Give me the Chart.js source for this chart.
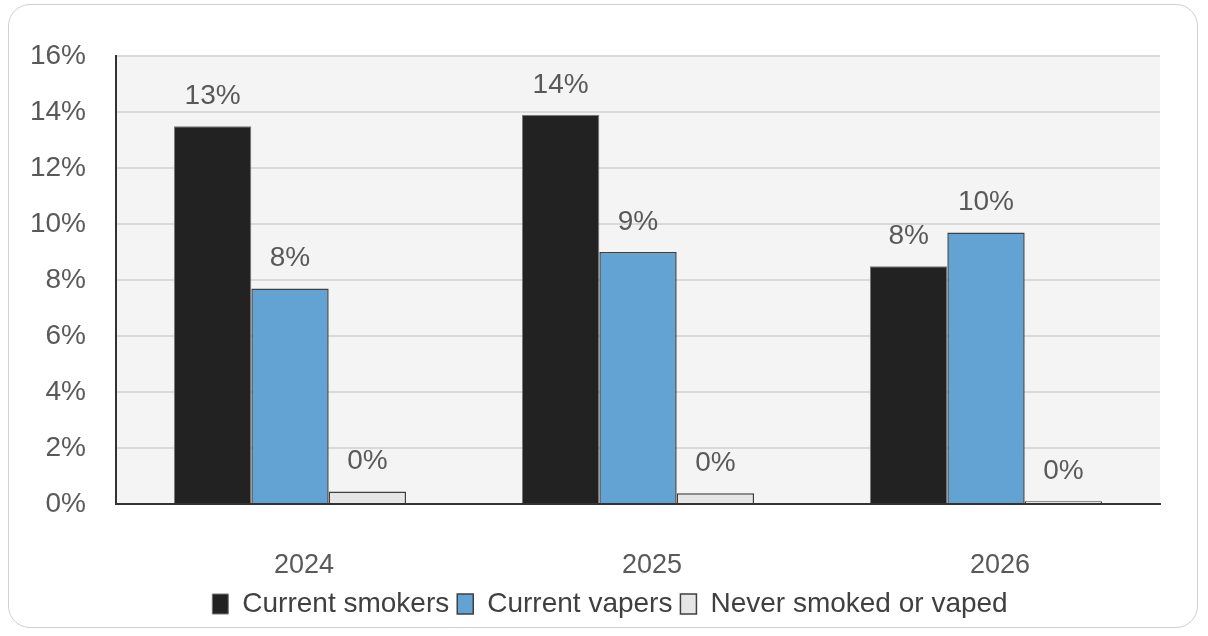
<!DOCTYPE html>
<html>
<head>
<meta charset="utf-8">
<script src="https://cdn.jsdelivr.net/npm/chart.js@4.4.0/dist/chart.umd.min.js"></script>
<style>
  html, body { margin: 0; padding: 0; background: #fff; }
  body { width: 1208px; height: 636px; position: relative; overflow: hidden; }
  #frame {
    position: absolute; left: 8px; top: 4px; width: 1190px; height: 624px;
    border: 1.5px solid #d0d0d0; border-radius: 22px; box-sizing: border-box;
  }
  #wrap { position: absolute; left: 0; top: 0; width: 1208px; height: 636px; }
</style>
</head>
<body>
<div id="frame"></div>
<div id="wrap"><canvas id="chart" width="1208" height="636"></canvas></div>
<script>
// ====== DATA ======
const years = ["2024", "2025", "2026"];
const smokers = [13.49, 13.9, 8.49];  // % current smokers
const vapers = [7.7, 9.0, 9.7];       // % current vapers
const neverUsed = [0.45, 0.38, 0.1];  // % never smoked or vaped
const yTicks = [0, 2, 4, 6, 8, 10, 12, 14, 16];

const FONT = "'Liberation Sans', Arial, sans-serif";
const TEXT = "#595959";

// grey plot background
const plotBg = {
  id: "plotBg",
  beforeDraw(chart) {
    const a = chart.chartArea;
    const ctx = chart.ctx;
    ctx.save();
    ctx.fillStyle = "#f4f4f4";
    ctx.fillRect(a.left, a.top, a.right - a.left, a.bottom - a.top);
    ctx.restore();
  }
};

// nudge the legend right so it sits centred like the original
const legendShift = {
  id: "legendShift",
  afterLayout(chart) {
    if (chart.legend) {
      chart.legend.left += 30;
      chart.legend.right += 30;
    }
  }
};

// value labels above each bar
const valueLabels = {
  id: "valueLabels",
  afterDatasetsDraw(chart) {
    const ctx = chart.ctx;
    ctx.save();
    ctx.font = "28px " + FONT;
    ctx.fillStyle = TEXT;
    ctx.textAlign = "center";
    ctx.textBaseline = "middle";
    chart.data.datasets.forEach((ds, i) => {
      chart.getDatasetMeta(i).data.forEach((bar, j) => {
        ctx.fillText(Math.round(ds.data[j]) + "%", bar.x, bar.y - 30);
      });
    });
    ctx.restore();
  }
};

new Chart(document.getElementById("chart").getContext("2d"), {
  type: "bar",
  data: {
    labels: years,
    datasets: [
      { label: "Current smokers", data: smokers, backgroundColor: "#222222", borderColor: "#777777", borderWidth: 1 },
      { label: "Current vapers", data: vapers, backgroundColor: "#62a3d4", borderColor: "#404040", borderWidth: 1.5 },
      { label: "Never smoked or vaped", data: neverUsed, backgroundColor: "#e6e6e6", borderColor: "#404040", borderWidth: 1.5 }
    ]
  },
  options: {
    responsive: false,
    animation: false,
    categoryPercentage: 0.667,
    barPercentage: 1.0,
    layout: { padding: { top: 56, right: 48, bottom: 8, left: 0 } },
    plugins: {
      legend: {
        position: "bottom",
        labels: {
          font: { family: FONT, size: 28 },
          color: "#404040",
          boxWidth: 16,
          boxHeight: 20,
          padding: 8
        }
      },
      tooltip: { enabled: false }
    },
    scales: {
      x: {
        grid: { display: false, drawTicks: false },
        border: { color: "#333333", width: 2 },
        ticks: { font: { family: FONT, size: 27 }, color: TEXT, padding: 45, labelOffset: 14 },
        afterFit(scale) { scale.height = 78; }
      },
      y: {
        min: 0,
        max: 16,
        afterBuildTicks(scale) { scale.ticks = yTicks.map(v => ({ value: v })); },
        grid: { color: "#d9d9d9", lineWidth: 2, drawTicks: false },
        border: { color: "#333333", width: 2 },
        ticks: {
          font: { family: FONT, size: 28 },
          color: TEXT,
          padding: 30,
          callback: v => v + "%"
        },
        afterFit(scale) { scale.width = 116; }
      }
    }
  },
  plugins: [plotBg, legendShift, valueLabels]
});
</script>
</body>
</html>
